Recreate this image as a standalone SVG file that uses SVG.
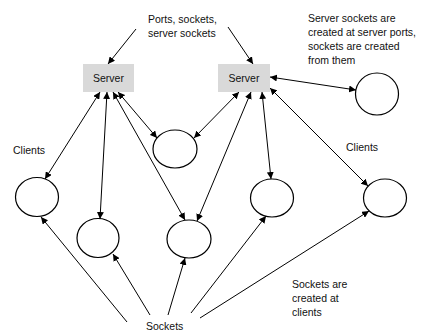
<svg xmlns="http://www.w3.org/2000/svg" width="423" height="331" viewBox="0 0 423 331">
  <defs>
    <marker id="arrow" viewBox="0 0 10 10" refX="10" refY="5" markerWidth="7" markerHeight="7" markerUnits="userSpaceOnUse" orient="auto-start-reverse">
      <path d="M0,0 L10,5 L0,10 z" fill="#000"/>
    </marker>
    <style>
      .txt { font-family: "Liberation Sans", Arial, sans-serif; font-size: 10.5px; fill: #111; }
      .server rect { fill: #d9d9d9; stroke: none; }
      .server text { text-anchor: middle; }
      .sock { fill: #fff; stroke: #000; stroke-width: 1.2; }
      .edge { stroke: #000; stroke-width: 1; fill: none; marker-end: url(#arrow); }
      .both { marker-start: url(#arrow); }
    </style>
  </defs>

  <!-- servers -->
  <g id="server1" class="server">
    <rect x="83" y="64" width="51" height="28"/>
    <text class="txt" x="108.5" y="82">Server</text>
  </g>
  <g id="server2" class="server">
    <rect x="218" y="64" width="52" height="28"/>
    <text class="txt" x="244" y="82">Server</text>
  </g>

  <!-- sockets -->
  <g id="socket-mid"><ellipse class="sock" cx="175" cy="149" rx="22" ry="19"/></g>
  <g id="socket-top-right"><ellipse class="sock" cx="377" cy="94" rx="21.5" ry="21"/></g>
  <g id="client1"><ellipse class="sock" cx="37" cy="197" rx="21.5" ry="19.5"/></g>
  <g id="client2"><ellipse class="sock" cx="98" cy="238" rx="21" ry="19.5"/></g>
  <g id="client3"><ellipse class="sock" cx="189" cy="239" rx="22" ry="19"/></g>
  <g id="client4"><ellipse class="sock" cx="272" cy="198" rx="21.5" ry="19"/></g>
  <g id="client5"><ellipse class="sock" cx="385" cy="198" rx="21.5" ry="19"/></g>

  <!-- labels -->
  <g id="label-ports" class="txt">
    <text x="148" y="23">Ports, sockets,</text>
    <text x="148" y="37">server sockets</text>
  </g>
  <g id="label-server-sockets" class="txt">
    <text x="308" y="22">Server sockets are</text>
    <text x="308" y="36">created at server ports,</text>
    <text x="308" y="50">sockets are created</text>
    <text x="308" y="64">from them</text>
  </g>
  <g id="label-clients-left"><text class="txt" x="13" y="154">Clients</text></g>
  <g id="label-clients-right"><text class="txt" x="346" y="151">Clients</text></g>
  <g id="label-sockets"><text class="txt" x="146" y="330">Sockets</text></g>
  <g id="label-sockets-created" class="txt">
    <text x="292" y="288">Sockets are</text>
    <text x="292" y="302">created at</text>
    <text x="292" y="316">clients</text>
  </g>

  <!-- connectors -->
  <g id="connectors">
    <!-- label pointers -->
    <line class="edge" x1="136" y1="29" x2="108" y2="64"/>
    <line class="edge" x1="228" y1="27" x2="253" y2="64"/>
    <!-- server to socket links -->
    <line class="edge both" x1="270" y1="77" x2="356" y2="90"/>
    <line class="edge both" x1="118" y1="92" x2="157" y2="138"/>
    <line class="edge both" x1="239" y1="92" x2="194" y2="138"/>
    <line class="edge both" x1="100" y1="92" x2="45" y2="179"/>
    <line class="edge both" x1="107" y1="92" x2="100" y2="219"/>
    <line class="edge both" x1="113" y1="92" x2="185" y2="220"/>
    <line class="edge both" x1="251" y1="92" x2="197" y2="221"/>
    <line class="edge both" x1="262" y1="92" x2="271" y2="179"/>
    <line class="edge both" x1="270" y1="88" x2="368" y2="186"/>
    <!-- sockets created at clients -->
    <line class="edge" x1="127" y1="322" x2="41" y2="217"/>
    <line class="edge" x1="150" y1="315" x2="113" y2="254"/>
    <line class="edge" x1="168" y1="315" x2="185" y2="258"/>
    <line class="edge" x1="191" y1="313" x2="266" y2="216"/>
    <line class="edge" x1="200" y1="318" x2="369" y2="211"/>
  </g>
</svg>
